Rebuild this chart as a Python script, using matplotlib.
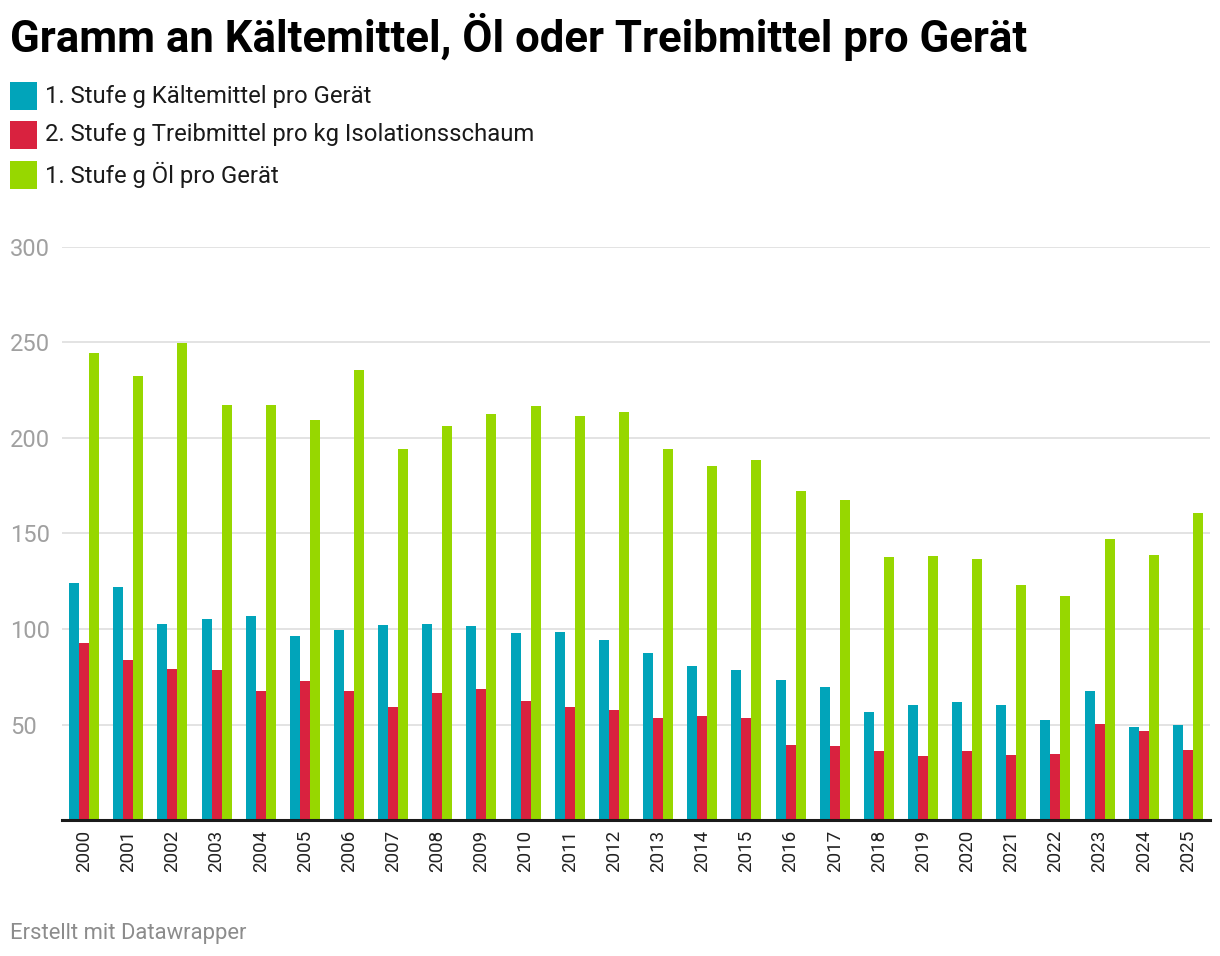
import numpy as np
import matplotlib.pyplot as plt
from matplotlib.patches import Rectangle

plt.rcParams['font.family'] = ['Roboto', 'DejaVu Sans']

# Data
years = [str(y) for y in range(2000, 2026)]
kaeltemittel = [124, 122, 102.6, 105.2, 106.8, 96.3, 99.5, 102.1, 102.6, 101.6,
                97.9, 98.4, 94.3, 87.5, 80.7, 78.6, 73.3, 69.7, 56.6, 60.3,
                61.8, 60.3, 52.4, 67.6, 48.8, 49.8]
treibmittel = [92.7, 83.8, 79.1, 78.6, 67.6, 72.8, 67.6, 59.2, 66.6, 68.6,
               62.4, 59.2, 57.7, 53.5, 54.5, 53.5, 39.4, 38.9, 36.2, 33.6,
               36.2, 34.1, 34.7, 50.3, 46.7, 36.8]
oel = [244.3, 232.2, 249.5, 217.1, 217.1, 209.2, 235.4, 194.1, 206.1, 212.4,
       216.6, 211.3, 213.4, 194.1, 185.2, 188.3, 172.1, 167.4, 137.6, 138.2,
       136.6, 123.0, 117.2, 147.0, 138.7, 160.6]

series_labels = ['1. Stufe g Kältemittel pro Gerät',
                 '2. Stufe g Treibmittel pro kg Isolationsschaum',
                 '1. Stufe g Öl pro Gerät']
colors = ['#01A4BA', '#D9223F', '#97D700']
yticks = [50, 100, 150, 200, 250, 300]

W, H = 1220, 956
fig = plt.figure(figsize=(W / 100, H / 100), dpi=100)
ax = fig.add_axes([62 / W, 1 - 820 / H, (1210 - 62) / W, (820 - 247) / H])

x = np.arange(len(years))
bw = 0.226
for i, (vals, col) in enumerate(zip([kaeltemittel, treibmittel, oel], colors)):
    ax.bar(x + (i - 1) * bw, vals, width=bw, color=col, linewidth=0, zorder=3)

ax.set_xlim(-0.5, len(years) - 0.5)
ax.set_ylim(0, 300)

# grid and baseline
for t in yticks:
    ax.axhline(t, color='#e3e3e3', lw=1.4, zorder=1)
ax.axhline(0, color='#1a1a1a', lw=2.2, zorder=4, clip_on=False)

for s in ax.spines.values():
    s.set_visible(False)

ax.set_yticks(yticks)
ax.set_yticklabels([str(t) for t in yticks], ha='left', color='#a0a0a0', fontsize=17)
ax.tick_params(axis='y', length=0, pad=37.5)

ax.set_xticks(x)
ax.set_xticklabels(years, rotation=90, color='#222222', fontsize=13.5)
ax.tick_params(axis='x', length=0, pad=7)

# title
fig.text(10 / W, 1 - 52 / H, 'Gramm an Kältemittel, Öl oder Treibmittel pro Gerät',
         fontsize=31.5, fontweight='bold', color='#000000', ha='left', va='baseline')

# legend
rows = [96, 135, 175]
for lab, col, yc in zip(series_labels, colors, rows):
    fig.patches.append(Rectangle((10 / W, 1 - (yc + 13.5) / H), 27 / W, 27 / H,
                                 transform=fig.transFigure, color=col, lw=0))
    fig.text(45 / W, 1 - yc / H, lab, fontsize=17.2, color='#1a1a1a',
             ha='left', va='center')

# footer
fig.text(10 / W, 1 - 933 / H, 'Erstellt mit Datawrapper', fontsize=15.8,
         color='#8c8c8c', ha='left', va='center')

fig.savefig('out.png', dpi=100)
